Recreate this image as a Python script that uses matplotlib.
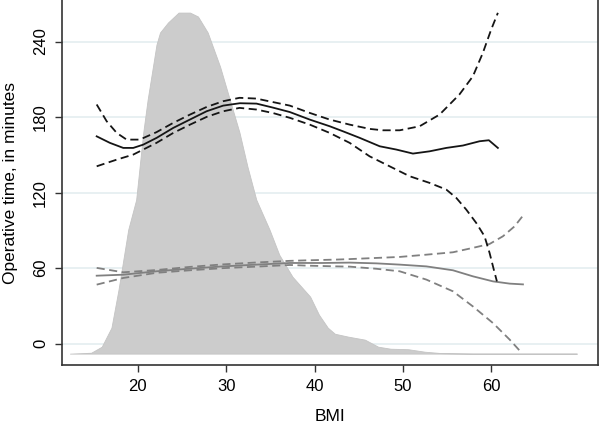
import matplotlib.pyplot as plt

plt.rcParams['font.family'] = ['Liberation Sans', 'DejaVu Sans']

# ---------------------------------
# Data
# ---------------------------------

# BMI distribution, drawn on the operative-time scale
dens_bmi = [12.3, 14.7, 15.9, 17.0, 17.8, 18.9, 19.8, 20.6, 21.1, 21.7,
            22.1, 22.5, 23.4, 24.6, 25.9, 26.8, 27.9, 29.3, 30.4, 31.5,
            32.4, 33.4, 34.9, 36.0, 37.5, 39.5, 40.5, 41.5, 42.3, 43.8,
            45.7, 47.2, 48.6, 50.6, 52.5, 54.4, 58.0, 69.7]
dens_val = [-7.9, -7.2, -2.4, 12.7, 42.9, 90.6, 114.4, 167.7, 193.9, 220.1,
            237.6, 247.2, 255.1, 263.0, 263.0, 259.9, 247.2, 220.1, 193.9, 167.7,
            140.7, 114.4, 90.6, 70.7, 53.2, 37.4, 23.0, 12.7, 7.9, 5.6,
            3.2, -2.4, -4.0, -4.4, -6.4, -7.5, -7.9, -7.9]
dens_base = -7.9

# first outcome (black): fit and 95% CI
blk_bmi = [15.33, 16.83, 18.34, 19.47, 20.6, 22.12, 24.0, 25.88, 27.77,
           29.65, 31.54, 33.43, 35.3, 37.2, 39.46, 41.72, 43.22, 45.11,
           47.38, 49.26, 51.14, 53.03, 54.92, 56.8, 58.69, 59.74, 60.76]
blk_fit = [164.7, 159.5, 155.5, 155.5, 158.1, 163.5, 171.4, 178.0, 184.6,
           189.1, 191.0, 190.7, 187.5, 184.0, 178.0, 172.7, 168.7, 163.5,
           156.8, 154.2, 151.0, 152.8, 155.5, 157.4, 160.8, 161.6, 155.5]
blk_up_bmi = [15.33, 16.46, 17.6, 18.72, 20.2, 22.1, 24.0, 25.9, 27.8,
              29.65, 31.5, 33.4, 35.3, 37.2, 39.46, 41.72, 43.98, 46.24,
              47.75, 49.64, 51.9, 54.16, 56.4, 57.93, 59.06, 60.0, 60.76]
blk_up = [190.0, 176.7, 167.4, 162.1, 162.1, 168.0, 175.4, 182.0, 188.1,
          192.6, 195.3, 194.7, 191.9, 189.1, 183.3, 178.0, 174.0, 170.6,
          169.5, 169.5, 172.7, 182.0, 197.9, 212.4, 231.0, 249.5, 262.8]
blk_lo_bmi = [15.33, 17.6, 19.47, 20.6, 22.1, 24.0, 25.9, 27.8, 29.65,
              31.5, 33.4, 35.3, 37.2, 39.46, 41.72, 43.98, 46.24, 48.5,
              50.77, 53.03, 54.92, 56.05, 57.18, 58.31, 59.25, 59.82,
              60.3, 60.65]
blk_lo = [140.9, 146.2, 150.2, 154.2, 159.5, 167.4, 174.0, 180.2, 184.6,
          187.3, 186.0, 183.2, 179.4, 174.0, 167.4, 159.5, 148.8, 140.9,
          133.0, 127.7, 122.4, 115.8, 106.5, 95.9, 85.3, 72.1,
          58.8, 49.5]

# second outcome (gray): fit and 95% CI
gry_bmi = [15.33, 18.34, 22.1, 25.9, 29.65, 33.43, 37.2, 40.97, 44.0,
           47.0, 49.64, 52.66, 55.67, 57.93, 60.2, 62.1, 63.6]
gry_fit = [54.0, 54.8, 57.5, 59.6, 61.4, 62.8, 64.1, 64.1, 64.4,
           63.8, 62.8, 61.4, 58.3, 53.5, 49.5, 47.7, 47.1]
gry_up_bmi = [15.33, 18.34, 22.1, 25.9, 29.65, 33.43, 37.2, 39.1, 42.5,
              44.0, 49.64, 52.66, 55.67, 57.93, 59.82, 61.33, 62.65, 63.6]
gry_up = [60.2, 56.7, 58.5, 61.0, 63.0, 64.5, 65.8, 66.2, 66.8,
          67.2, 68.9, 70.7, 72.6, 76.1, 79.2, 85.3, 93.2, 101.7]
gry_lo_bmi = [15.33, 18.34, 22.1, 25.9, 29.65, 33.43, 37.2, 39.1, 42.5,
              44.0, 47.0, 49.64, 52.66, 55.67, 57.93, 60.2, 62.1, 63.3]
gry_lo = [46.9, 52.2, 56.3, 58.3, 60.0, 61.2, 62.5, 62.0, 61.4,
          61.2, 59.5, 57.5, 50.9, 41.6, 29.6, 16.4, 3.2, -6.1]

y_ticks = [0, 60, 120, 180, 240]
x_ticks = [20, 30, 40, 50, 60]

# ---------------------------------
# Figure
# ---------------------------------

fig = plt.figure(figsize=(6, 4.25), dpi=100)
ax = fig.add_axes([0.1033, 0.141, 0.8934, 0.859])

ax.fill_between(dens_bmi, dens_base, dens_val,
                color="#cccccc", edgecolor="#c4c4c4", lw=0.6, zorder=2)

dash = (0, (4.5, 2.5))

ax.plot(blk_bmi, blk_fit, color="#151515", lw=1.3, zorder=4)
ax.plot(blk_up_bmi, blk_up, color="#151515", lw=1.3, ls=dash, zorder=4)
ax.plot(blk_lo_bmi, blk_lo, color="#151515", lw=1.3, ls=dash, zorder=4)

ax.plot(gry_bmi, gry_fit, color="#808080", lw=1.3, zorder=3)
ax.plot(gry_up_bmi, gry_up, color="#808080", lw=1.3, ls=dash, zorder=3)
ax.plot(gry_lo_bmi, gry_lo, color="#808080", lw=1.3, ls=dash, zorder=3)

# ---------------------------------
# Axes
# ---------------------------------

ax.set_xlim(11.4, 72.1)
ax.set_ylim(-17, 273)

ax.set_yticks(y_ticks)
ax.set_xticks(x_ticks)
ax.set_yticklabels([str(v) for v in y_ticks], rotation=90, va="center")

ax.tick_params(axis="both", labelsize=12, length=5, width=1.0,
               color="#333333", pad=5)

ax.set_xlabel("BMI", fontsize=12.5, labelpad=11)
ax.set_ylabel("Operative time, in minutes", fontsize=12.5, labelpad=11)

ax.grid(axis="y", color="#e8f0f2", lw=1.4, zorder=0)
ax.set_axisbelow(True)

ax.spines["top"].set_visible(False)
for side in ["left", "bottom", "right"]:
    ax.spines[side].set_color("#333333")
    ax.spines[side].set_linewidth(1.2)

fig.savefig("out.png", dpi=100)
